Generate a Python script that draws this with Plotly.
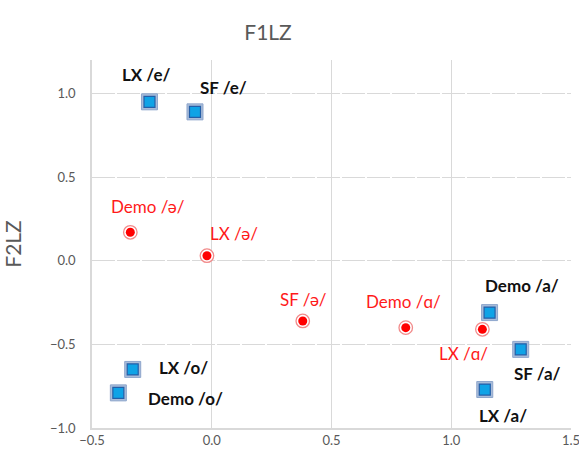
import plotly.graph_objects as go

# Blue series (squares)
blue_labels = ["LX /e/", "SF /e/", "Demo /a/", "SF /a/", "LX /a/", "LX /o/", "Demo /o/"]
blue_x = [-0.26, -0.07, 1.16, 1.29, 1.14, -0.33, -0.39]
blue_y = [0.95, 0.89, -0.31, -0.53, -0.77, -0.65, -0.79]

# Red series (circles)
red_labels = ["Demo /ə/", "LX /ə/", "SF /ə/", "Demo /ɑ/", "LX /ɑ/"]
red_x = [-0.34, -0.02, 0.38, 0.81, 1.13]
red_y = [0.17, 0.03, -0.36, -0.40, -0.41]

# label offsets in pixels (style only)
blue_off = [(-3, 27), (29, 24), (32, 27), (17, -24), (18, -26), (51, 2), (67, -6)]
red_off = [(18, 26), (27, 22), (1, 21), (-2, 26), (-19, -24)]

FONT = "Lato, Open Sans, Liberation Sans"

fig = go.Figure()

fig.add_trace(go.Scatter(x=blue_x, y=blue_y, mode="markers", hoverinfo="skip",
                         marker=dict(symbol="square", size=16, color="#A9BCD9",
                                     line=dict(color="#8EA6CC", width=1))))
fig.add_trace(go.Scatter(x=blue_x, y=blue_y, mode="markers", text=blue_labels,
                         marker=dict(symbol="square", size=11, color="#0FA3E6",
                                     line=dict(color="#245FA8", width=1.2))))
fig.add_trace(go.Scatter(x=red_x, y=red_y, mode="markers", hoverinfo="skip",
                         marker=dict(symbol="circle", size=13.5, color="white",
                                     line=dict(color="#F28B8B", width=1.3))))
fig.add_trace(go.Scatter(x=red_x, y=red_y, mode="markers", text=red_labels,
                         marker=dict(symbol="circle", size=9, color="#FF0000",
                                     line=dict(width=0))))

annotations = []
for lab, x, y, (dx, dy) in zip(blue_labels, blue_x, blue_y, blue_off):
    annotations.append(dict(x=x, y=y, xref="x", yref="y", text="<b>" + lab + "</b>",
                            showarrow=False, xshift=dx, yshift=dy,
                            font=dict(family=FONT, size=17, color="#111111")))
for lab, x, y, (dx, dy) in zip(red_labels, red_x, red_y, red_off):
    annotations.append(dict(x=x, y=y, xref="x", yref="y", text=lab,
                            showarrow=False, xshift=dx, yshift=dy,
                            font=dict(family=FONT, size=17, color="#FF1A1A")))

fig.update_layout(
    width=579, height=454,
    margin=dict(l=92, r=8, t=60, b=26, autoexpand=False),
    paper_bgcolor="white", plot_bgcolor="white",
    showlegend=False,
    title=dict(text="F1LZ", x=268 / 579, xanchor="center", y=1 - 33 / 454, yanchor="middle",
               font=dict(family=FONT, size=21, color="#595959")),
    annotations=annotations,
    xaxis=dict(range=[-0.5, 1.5], dtick=0.5, tick0=-0.5, tickformat=".1f",
               automargin=False, ticklabeloverflow="allow",
               showgrid=True, gridcolor="#D9D9D9", gridwidth=1,
               showline=True, linecolor="#D9D9D9", linewidth=1.5,
               zeroline=False, ticks="",
               tickfont=dict(family=FONT, size=13, color="#595959")),
    yaxis=dict(range=[-1.0, 1.2], dtick=0.5, tick0=-1.0, tickformat=".1f",
               automargin=False, ticklabeloverflow="allow",
               showgrid=True, gridcolor="#D9D9D9", gridwidth=1, griddash="23px,2px",
               showline=True, linecolor="#D9D9D9", linewidth=1.5,
               zeroline=False, ticks="", ticklabelstandoff=12,
               title=dict(text="F2LZ", standoff=27,
                          font=dict(family=FONT, size=21, color="#595959")),
               tickfont=dict(family=FONT, size=13, color="#595959")),
)

fig.write_html("out.html", config={"displayModeBar": False},
               post_script="document.body.style.margin='0px';")
